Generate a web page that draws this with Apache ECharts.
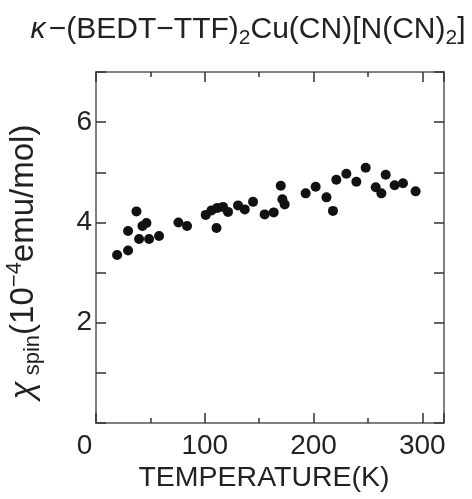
<!DOCTYPE html>
<html>
<head>
<meta charset="utf-8">
<script src="https://cdn.jsdelivr.net/npm/echarts@6/dist/echarts.min.js"></script>
<style>
html,body{margin:0;padding:0;background:#fff;}
#chart{width:472px;height:499px;}
</style>
</head>
<body>
<div id="chart"></div>
<script>
// Temperature (K)
var temperature = [19.4, 29.5, 29.5, 37.2, 42.7, 46.4, 39.6, 48.8, 58.0, 75.8, 83.7,
  100.9, 106.2, 111.5, 110.8, 116.8, 121.4, 130.6, 136.8, 144.4, 155.1, 163.4,
  169.9, 171.4, 173.5, 192.8, 202.0, 211.9, 217.9, 221.0, 230.2, 239.4, 248.0,
  257.2, 262.4, 266.4, 274.6, 282.3, 293.9];
// chi_spin (1e-4 emu/mol)
var chiSpin = [3.35, 3.44, 3.83, 4.22, 3.93, 3.99, 3.67, 3.67, 3.73, 4.00, 3.93,
  4.15, 4.24, 4.29, 3.89, 4.31, 4.21, 4.34, 4.26, 4.41, 4.16, 4.20,
  4.73, 4.46, 4.36, 4.58, 4.71, 4.50, 4.23, 4.85, 4.97, 4.81, 5.09,
  4.70, 4.58, 4.95, 4.74, 4.78, 4.62];
var xTickLabels = [0, 100, 200, 300];
var yTickLabels = [2, 4, 6];

var points = temperature.map(function (t, i) { return [t, chiSpin[i]]; });

var FONT = '"Liberation Sans", Arial, sans-serif';
var frameColor = '#808080';
var tickColor = '#333';
var TICK_FS = 28;

function xLabel(v) {
  if (xTickLabels.indexOf(v) < 0) return '';
  return v === 0 ? '{z|0}' : '{n|' + v + '}';
}
function yLabel(v) {
  return yTickLabels.indexOf(v) >= 0 ? String(v) : '';
}

var chart = echarts.init(document.getElementById('chart'), null, {renderer: 'canvas'});
var baseX = {
  type: 'value', min: 0, max: 320, gridIndex: 0,
  splitLine: {show: false},
  axisLine: {show: true, onZero: false, lineStyle: {color: frameColor, width: 2}}
};
var baseY = {
  type: 'value', min: 0, max: 7, interval: 1, gridIndex: 0,
  splitLine: {show: false},
  axisLine: {show: true, onZero: false, lineStyle: {color: frameColor, width: 2}},
  axisTick: {show: true, inside: true, length: 10, lineStyle: {color: tickColor, width: 1.5}}
};
chart.setOption({
  animation: false,
  backgroundColor: '#fff',
  grid: {left: 96, right: 28, top: 72, bottom: 76},
  xAxis: [
    Object.assign({}, baseX, {
      position: 'bottom', interval: 100,
      axisTick: {show: true, inside: true, length: 10, lineStyle: {color: tickColor, width: 1.5}},
      axisLabel: {show: true, formatter: xLabel, margin: 9, color: '#222', fontFamily: FONT, fontSize: TICK_FS,
        rich: {n: {fontSize: TICK_FS, fontFamily: FONT, color: '#222'},
               z: {fontSize: TICK_FS, fontFamily: FONT, color: '#222', padding: [0, 23, 0, 0]}}},
      showMaxLabel: false
    }),
    Object.assign({}, baseX, {
      position: 'bottom', interval: 50,
      axisTick: {show: true, inside: true, length: 5, lineStyle: {color: tickColor, width: 1.5}},
      axisLabel: {show: false}
    }),
    Object.assign({}, baseX, {
      position: 'top', interval: 100,
      axisTick: {show: true, inside: true, length: 10, lineStyle: {color: tickColor, width: 1.5}},
      axisLabel: {show: false}
    }),
    Object.assign({}, baseX, {
      position: 'top', interval: 50,
      axisTick: {show: true, inside: true, length: 5, lineStyle: {color: tickColor, width: 1.5}},
      axisLabel: {show: false}
    })
  ],
  yAxis: [
    Object.assign({}, baseY, {
      position: 'left',
      axisLabel: {show: true, formatter: yLabel, margin: 4, color: '#222', fontFamily: FONT, fontSize: TICK_FS}
    }),
    Object.assign({}, baseY, {
      position: 'right',
      axisLabel: {show: false}
    })
  ],
  graphic: [
    {
      type: 'text', x: 248, y: 30,
      style: {
        text: '{k|κ} {a|−(BEDT−TTF)}{s|2}{a|Cu(CN)[N(CN)}{s|2}{a|]}',
        align: 'center', verticalAlign: 'middle',
        rich: {
          k: {fontSize: 30, fontFamily: FONT, fontStyle: 'italic', fill: '#222', lineHeight: 38, verticalAlign: 'middle'},
          a: {fontSize: 30, fontFamily: FONT, fill: '#222', lineHeight: 38, verticalAlign: 'middle'},
          s: {fontSize: 21, fontFamily: FONT, fill: '#222', lineHeight: 38, verticalAlign: 'bottom', padding: [10, 0, 0, 0]}
        }
      }
    },
    {
      type: 'text', x: 264, y: 478,
      style: {text: 'TEMPERATURE(K)', fontSize: 28.5, fontFamily: FONT, fill: '#222', align: 'center', verticalAlign: 'middle'}
    },
    {
      type: 'text', x: 24, y: 262, rotation: Math.PI / 2,
      style: {
        text: '{k|χ}{s| spin}{a|(10}{p|−4}{a|emu/mol)}',
        align: 'center', verticalAlign: 'middle',
        rich: {
          k: {fontSize: 33, fontFamily: FONT, fontStyle: 'italic', fill: '#222', lineHeight: 40, verticalAlign: 'middle'},
          a: {fontSize: 33, fontFamily: FONT, fill: '#222', lineHeight: 40, verticalAlign: 'middle'},
          s: {fontSize: 22, fontFamily: FONT, fill: '#222', lineHeight: 40, verticalAlign: 'bottom', padding: [8, 0, 0, 0]},
          p: {fontSize: 22, fontFamily: FONT, fill: '#222', lineHeight: 40, verticalAlign: 'top', padding: [0, 0, 10, 0]}
        }
      }
    }
  ],
  series: [{
    type: 'scatter', xAxisIndex: 0, yAxisIndex: 0,
    data: points, symbol: 'circle', symbolSize: 10,
    itemStyle: {color: '#111', opacity: 1}
  }]
});
</script>
</body>
</html>
